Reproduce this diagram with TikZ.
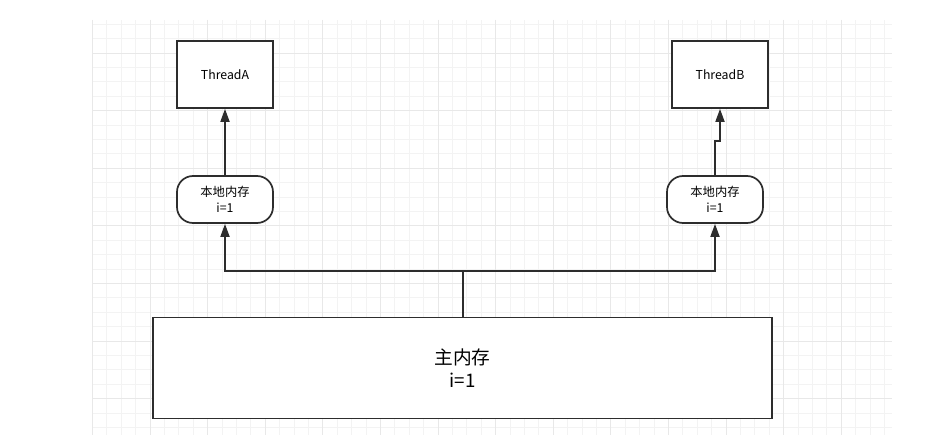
\documentclass[tikz,border=0pt]{standalone}
\usepackage{fontspec}
\setmainfont{Noto Sans CJK SC}
\usetikzlibrary{arrows.meta,positioning}
\definecolor{gridminor}{RGB}{243,243,243}
\definecolor{gridmajor}{RGB}{232,232,232}
\definecolor{linegray}{RGB}{45,45,45}

\begin{document}
\begin{tikzpicture}[x=1pt,y=-1pt,
    threadbox/.style={draw=linegray, line width=1.7pt, fill=white, inner sep=0pt,
        minimum width=96pt, minimum height=67pt, font=\fontsize{12.3}{16}\selectfont},
    cachebox/.style={draw=linegray, line width=1.7pt, fill=white, inner sep=0pt,
        rounded corners=16pt, minimum width=96pt, minimum height=47pt, align=center,
        font=\fontsize{12.3}{16}\selectfont},
    membox/.style={draw=linegray, line width=1.7pt, fill=white, inner sep=0pt,
        minimum width=619pt, minimum height=101pt, align=center,
        font=\fontsize{18.7}{23}\selectfont},
    flow/.style={draw=linegray, line width=1.7pt, -{Triangle[length=13pt,width=9pt]}}]
    \useasboundingbox (0,0) rectangle (948,435);
    % Grid background
    \begin{scope}
        \clip (92,20) rectangle (892,435);
        \foreach \k in {0,...,55} {
            \draw[gridminor, line width=0.8pt] ({92.4+14.4*\k},20) -- ({92.4+14.4*\k},435);
        }
        \foreach \k in {-2,...,26} {
            \draw[gridminor, line width=0.8pt] (92,{53+14.4*\k}) -- (892,{53+14.4*\k});
        }
        \foreach \k in {0,...,13} {
            \draw[gridmajor, line width=0.8pt] ({92.4+57.6*\k},20) -- ({92.4+57.6*\k},435);
        }
        \foreach \k in {0,...,6} {
            \draw[gridmajor, line width=0.8pt] (92,{53+57.6*\k}) -- (892,{53+57.6*\k});
        }
    \end{scope}
    % Threads
    \node[threadbox] (thrA) at (225,74.5) {ThreadA};
    \node[threadbox] (thrB) at (720,74.5) {ThreadB};
    % Local memories
    \node[cachebox] (locA) at (225,199.5) {本地内存\\i=1};
    \node[cachebox] (locB) at (715,199.5) {本地内存\\i=1};
    % Main memory
    \node[membox] (mainmem) at (462.5,368) {主内存\\i=1};
    % Connectors
    \coordinate (split) at (463,271);
    \draw[flow] (split |- mainmem.north) -- (split) -| (locA.south);
    \draw[flow] (split) -| (locB.south);
    \draw[flow] (locA.north) -- (thrA.south);
    \draw[flow] (locB.north) -- ++(0,-34) -| (thrB.south);
\end{tikzpicture}
\end{document}
